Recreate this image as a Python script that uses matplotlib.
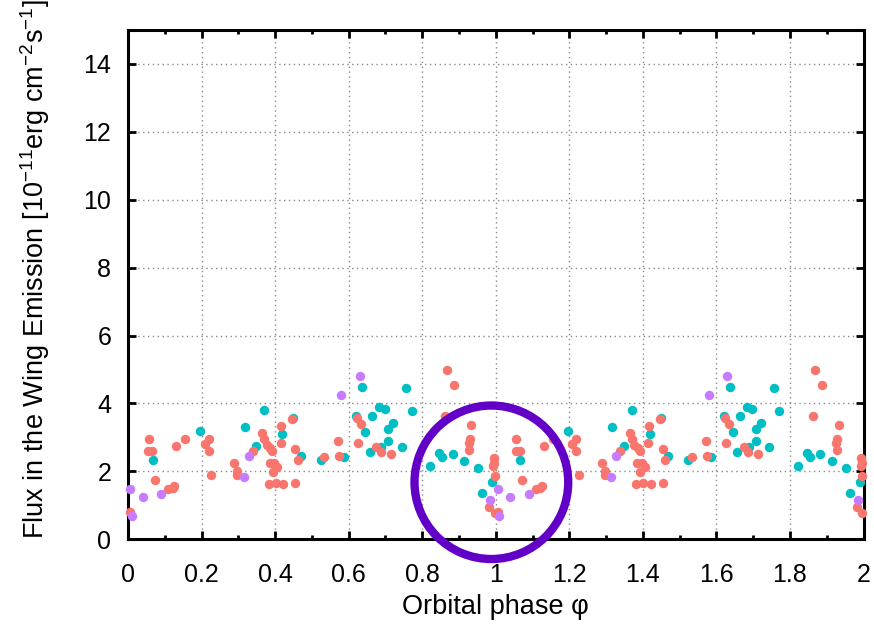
import numpy as np
import matplotlib
matplotlib.use('Agg')
import matplotlib.pyplot as plt
from matplotlib.patches import Ellipse
from matplotlib.ticker import MultipleLocator

plt.rcParams['font.family'] = ['Liberation Sans', 'DejaVu Sans']
plt.rcParams['mathtext.fontset'] = 'custom'
plt.rcParams['mathtext.rm'] = 'Liberation Sans'
plt.rcParams['mathtext.it'] = 'Liberation Sans:italic'

# phases in [0, 1); every point is drawn again at phase + 1
red_phase = [0.005, 0.072, 0.055, 0.066, 0.056, 0.110, 0.121, 0.126, 0.131, 0.156,
             0.208, 0.219, 0.219, 0.225, 0.289, 0.296, 0.297, 0.339, 0.364, 0.371,
             0.377, 0.386, 0.391, 0.385, 0.398, 0.406, 0.393, 0.382, 0.401, 0.422,
             0.417, 0.415, 0.446, 0.454, 0.461, 0.454, 0.533, 0.572, 0.574, 0.622,
             0.634, 0.625, 0.675, 0.687, 0.714, 0.868, 0.886, 0.863, 0.933, 0.929,
             0.926, 0.928, 0.982, 0.997, 0.994, 0.995, 0.993, 0.997]
red_flux = [0.80, 1.76, 2.59, 2.59, 2.96, 1.49, 1.50, 1.56, 2.75, 2.95,
            2.81, 2.96, 2.60, 1.88, 2.25, 2.01, 1.88, 2.61, 3.13, 2.96,
            2.79, 2.70, 2.59, 2.25, 2.25, 2.13, 1.98, 1.64, 1.67, 1.64,
            3.34, 2.85, 3.53, 2.65, 2.35, 1.67, 2.42, 2.89, 2.46, 3.56,
            3.40, 2.85, 2.71, 2.57, 2.52, 4.99, 4.55, 3.64, 3.38, 2.94,
            2.84, 2.63, 0.95, 0.77, 2.40, 2.26, 2.15, 1.86]

teal_phase = [0.067, 0.196, 0.317, 0.348, 0.370, 0.420, 0.448, 0.469, 0.524, 0.586,
              0.636, 0.620, 0.645, 0.663, 0.683, 0.698, 0.721, 0.707, 0.707, 0.688,
              0.657, 0.744, 0.756, 0.771, 0.822, 0.845, 0.855, 0.883, 0.914, 0.953,
              0.962, 0.991]
teal_flux = [2.34, 3.18, 3.32, 2.75, 3.82, 3.10, 3.57, 2.46, 2.35, 2.42,
             4.48, 3.63, 3.16, 3.64, 3.91, 3.85, 3.44, 3.26, 2.89, 2.71,
             2.57, 2.71, 4.46, 3.77, 2.15, 2.54, 2.43, 2.52, 2.30, 2.09,
             1.35, 1.70]

purple_phase = [0.005, 0.010, 0.040, 0.089, 0.314, 0.328, 0.580, 0.630, 0.984]
purple_flux = [1.49, 0.69, 1.25, 1.33, 1.85, 2.45, 4.24, 4.82, 1.15]

fig = plt.figure(figsize=(8.74, 6.24), dpi=100)
ax = fig.add_axes([0.1465, 0.1357, 0.8415, 0.8163])

for ph, fl, col in [(teal_phase, teal_flux, '#00BFC4'),
                    (red_phase, red_flux, '#F8766D'),
                    (purple_phase, purple_flux, '#C77CFF')]:
    ph = np.array(ph)
    fl = np.array(fl)
    ax.plot(np.concatenate([ph, ph + 1]), np.concatenate([fl, fl]), 'o',
            color=col, ms=6.8, mew=0, clip_on=False, zorder=3)

# highlight around phase 1
ax.add_patch(Ellipse((0.988, 1.68), 2 * 0.209, 2 * 2.26, fill=False,
                     ec='#6200C8', lw=6, clip_on=False, zorder=4))

ax.set_xlim(0, 2)
ax.set_ylim(0, 15)
ax.xaxis.set_minor_locator(MultipleLocator(0.1))
ax.yaxis.set_major_locator(MultipleLocator(2))
ax.set_xticks(np.arange(0, 2.01, 0.2))
ax.set_xticklabels(['0', '0.2', '0.4', '0.6', '0.8', '1', '1.2', '1.4', '1.6', '1.8', '2'])

ax.grid(True, which='major', color='#8a8a8a', lw=1.0, ls=(0, (1, 2.5)))
ax.set_axisbelow(True)
for s in ax.spines.values():
    s.set_linewidth(2.2)
ax.tick_params(which='both', direction='in', top=True, right=True, width=2.0,
               labelsize=18)
ax.tick_params(axis='x', pad=17)
ax.tick_params(axis='y', pad=12)
ax.tick_params(which='major', length=6)
ax.tick_params(which='minor', length=3)

ax.set_xlabel('Orbital phase φ', fontsize=19.5)
ax.set_ylabel(r'Flux in the Wing Emission [10$^{-11}$erg cm$^{-2}$s$^{-1}$]',
              fontsize=19.5)
ax.xaxis.set_label_coords(0.5, -0.108)
ax.yaxis.set_label_coords(-0.103, 0.53)

fig.savefig('out.png', dpi=100)
